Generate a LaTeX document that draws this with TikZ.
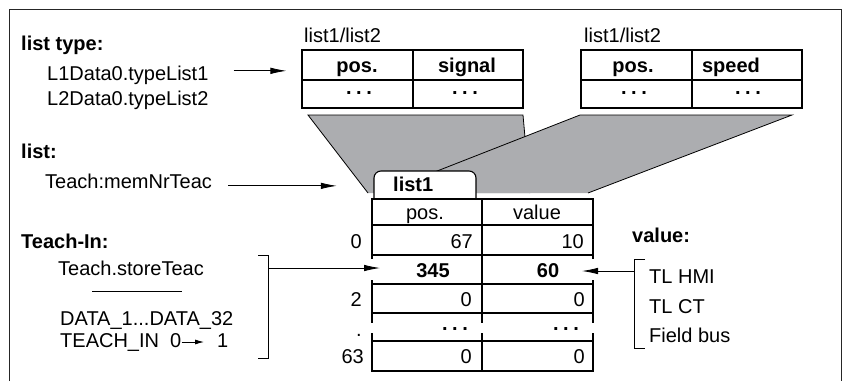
\documentclass[tikz,border=0pt]{standalone}
\usepackage{fontspec}
\setmainfont{Liberation Sans}
\usetikzlibrary{arrows.meta,positioning}
\definecolor{fangray}{RGB}{172,173,176}
\newcommand{\fs}{\fontsize{20}{24}\selectfont}
\newcommand{\dts}{\textbf{.\hspace{4.5pt}.\hspace{4.5pt}.}}
\tikzset{
  txt/.style={anchor=base west,inner sep=0pt},
  hd/.style={anchor=base west,inner sep=0pt,font=\fs\bfseries},
  num/.style={anchor=base east,inner sep=0pt},
  mid/.style={anchor=base,inner sep=0pt},
  bmid/.style={mid,font=\fs\bfseries},
  arr/.style={-{Latex[length=16pt,width=6.5pt]},line width=0.8pt},
  grid/.style={line width=1.1pt},
  box/.style={draw,line width=1.1pt,inner sep=0pt},
}

\begin{document}
\begin{tikzpicture}[x=1pt,y=-1pt,font=\fs]
  \useasboundingbox (0,0) rectangle (844,381);
  \draw[line width=0.8pt,black!85] (9,381) -- (9,9) -- (841,9) -- (841,381);

  % labels on the left
  \node[hd] (ltype) at (21,50) {list type:};
  \node[txt] (tl1) at (47,80) {L1Data0.typeList1};
  \node[txt] (tl2) at (47,105) {L2Data0.typeList2};
  \node[hd] (llist) at (21,158) {list:};
  \node[txt] (mem) at (45,188) {Teach:memNrTeac};
  \node[hd] (lteach) at (21,248) {Teach-In:};
  \node[txt] (store) at (58,275) {Teach.storeTeac};
  \draw[line width=0.8pt] (92,291) -- (182,291);
  \node[txt] (data) at (60,325) {DATA\_1...DATA\_32};
  \node[txt] (tin0) at (60,347) {TEACH\_IN~~0};
  \node[txt] (tin1) at (217,347) {1};
  \draw[-{Latex[length=9pt,width=5pt]},line width=0.8pt,shorten >=13pt] (tin0.east) -- (tin0.east -| tin1.west);

  % list types
  \node[txt] (capA) at (304,42) {list1/list2};
  \node[box,minimum width=221pt,minimum height=58pt] (tsig) at (412.5,79) {};
  \draw[grid] (302,80) -- (523,80) (413,50) -- (413,108);
  \node[bmid] at (357,72) {pos.};
  \node[bmid] at (467,72) {signal};
  \node[mid] at (359,94) {\dts};
  \node[mid] at (465,94) {\dts};

  \node[txt] (capB) at (584,42) {list1/list2};
  \node[box,minimum width=221pt,minimum height=58pt] (tspd) at (691.5,79) {};
  \draw[grid] (581,80) -- (802,80) (692,50) -- (692,108);
  \node[bmid] at (633,72) {pos.};
  \node[bmid] at (731,72) {speed};
  \node[mid] at (634,94) {\dts};
  \node[mid] at (748,94) {\dts};

  % fans down to the list
  \fill[fangray] (308,115) -- (523,115) -- (530,193) -- (368,193) -- cycle;
  \draw[line width=0.8pt] (368,193) -- (308,115) -- (523,115) -- (530,193);
  \fill[fangray] (580,115) -- (792,115) -- (588,193) -- (381,193) -- cycle;
  \draw[line width=0.8pt] (381,193) -- (580,115) -- (792,115) -- (588,193);

  % list1
  \draw[fill=white,line width=1.1pt,rounded corners=7pt] (374,199) |- (476,171) -- (476,199);
  \node[hd] (tabname) at (393,191) {list1};
  \node[inner sep=0pt,minimum width=221pt,minimum height=172pt] (tlist) at (482.5,285) {};
  \draw[grid] (372,199) rectangle (593,225);
  \draw[grid] (372,225) rectangle (593,255);
  \draw[grid] (372,255) -- (593,255) (372,284) -- (593,284)
    (372,255) -- (372,259) (372,280) -- (372,284) (593,255) -- (593,259) (593,280) -- (593,284);
  \draw[grid] (372,284) rectangle (593,313);
  \draw[grid] (372,313) -- (593,313) (372,341) -- (593,341)
    (372,313) -- (372,323) (372,333) -- (372,341) (593,313) -- (593,323) (593,333) -- (593,341);
  \draw[grid] (372,341) rectangle (593,371);
  \draw[grid] (482,199) -- (482,323) (482,333) -- (482,371);

  \node[mid] at (425,219) {pos.};
  \node[mid] at (537,219) {value};
  \node[num] at (362,248) {0};
  \node[num] at (473,248) {67};
  \node[num] at (584,248) {10};
  \node[bmid] (v345) at (433,277) {345};
  \node[bmid] (v60) at (548,277) {60};
  \node[num] at (362,306) {2};
  \node[num] at (472,306) {0};
  \node[num] at (585,306) {0};
  \node[num] at (362,336) {.};
  \node[mid] at (455,330) {\dts};
  \node[mid] at (566,330) {\dts};
  \node[num] at (364,363) {63};
  \node[num] at (472,363) {0};
  \node[num] at (585,363) {0};

  % sources of the value
  \node[hd] (lvalue) at (632,242) {value:};
  \node[txt] (hmi) at (649,283) {TL HMI};
  \node[txt] (ct) at (649,313) {TL CT};
  \node[txt] (bus) at (649,342) {Field bus};
  \draw[line width=0.8pt] (258,255) -| (268,358) -- (258,358);
  \draw[line width=0.8pt] (645,259) -| (634,348) -- (645,348);
  \coordinate (bktL) at (268,268);
  \coordinate (bktR) at (634,271);
  \coordinate (inL) at (380,268);
  \coordinate (inR) at (582,271);

  % arrows
  \draw[arr] ([xshift=25pt,yshift=4pt]tl1.east) -- ([xshift=-15pt,yshift=4pt]tl1.east -| tsig.west);
  \draw[arr] ([xshift=16pt,yshift=-5pt]mem.east) -- ([xshift=-35pt,yshift=-5pt]mem.east -| tlist.west);
  \draw[arr] (bktL) -- (inL);
  \draw[arr] (bktR) -- (inR);
\end{tikzpicture}
\end{document}
